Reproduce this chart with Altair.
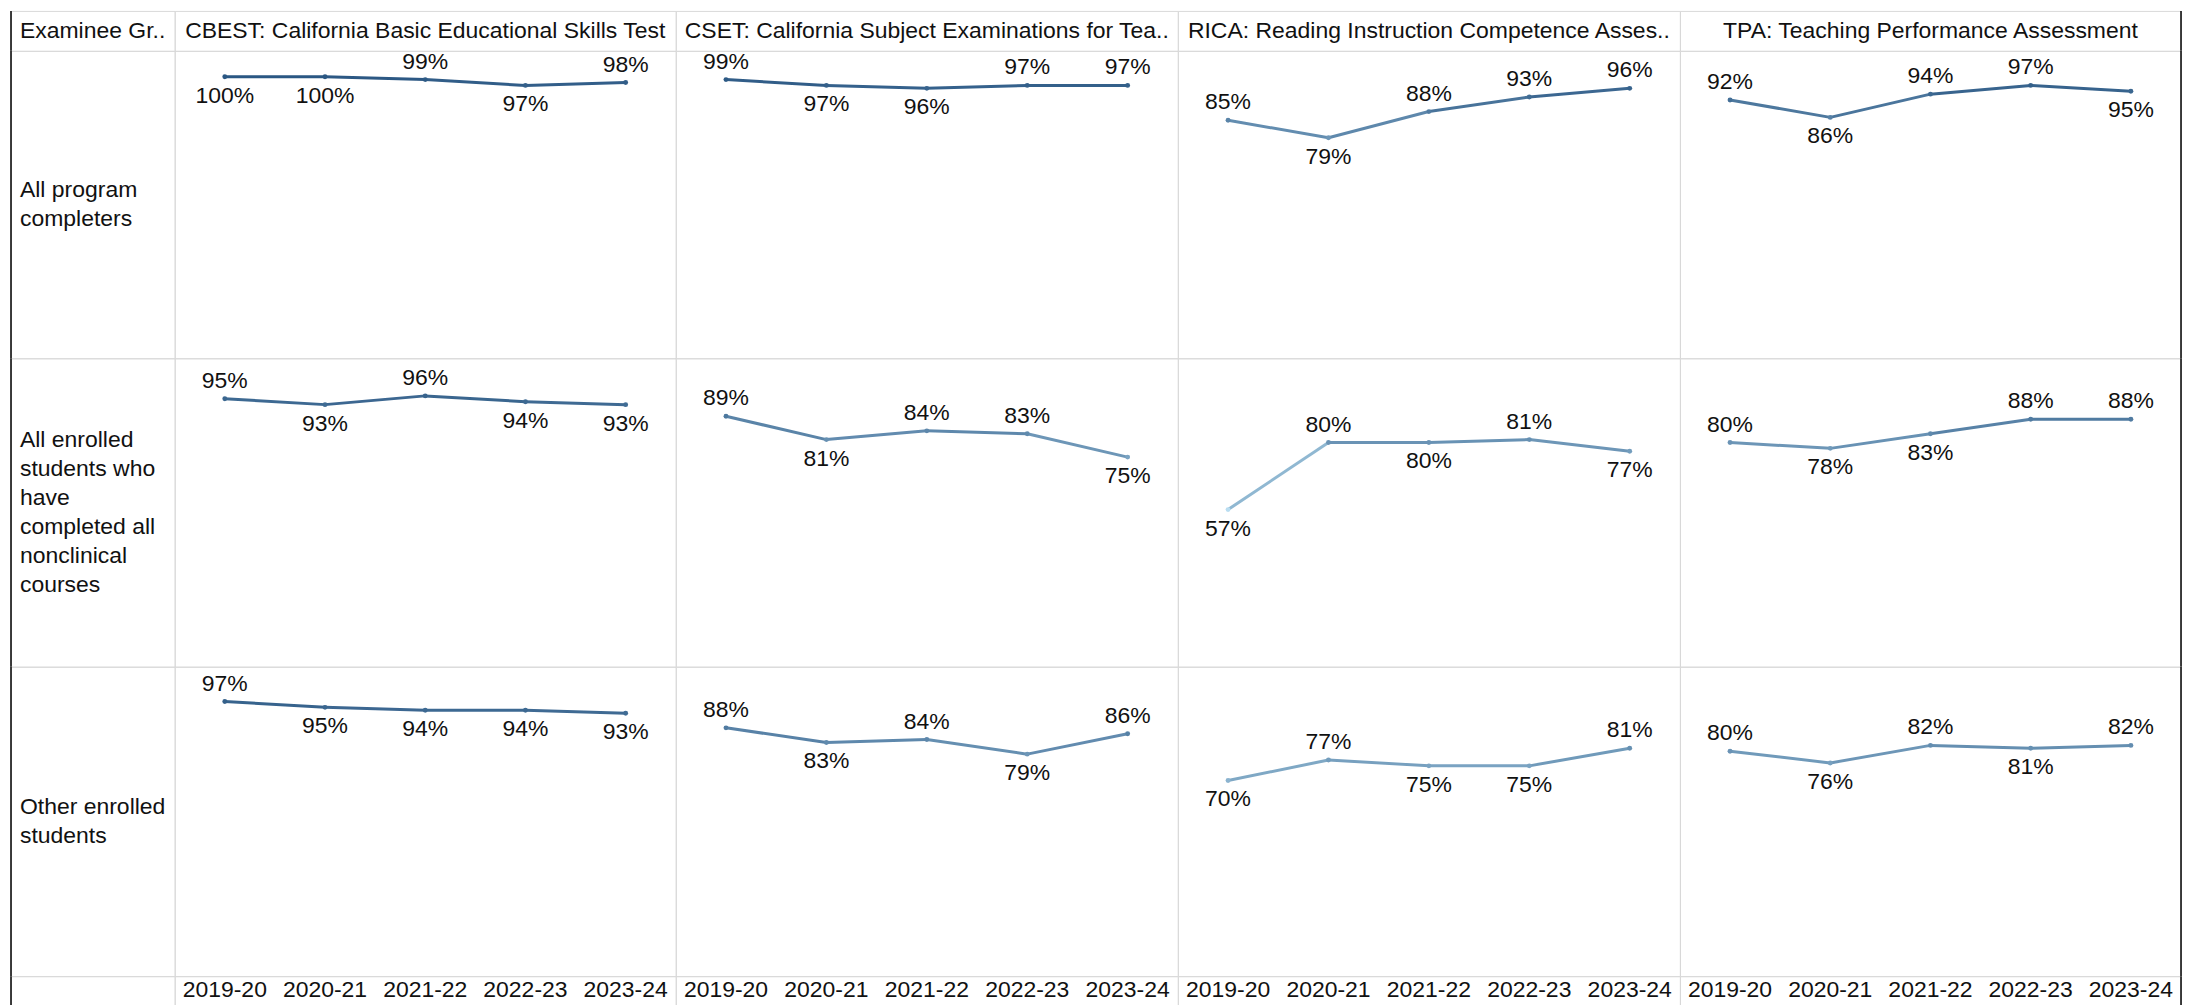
import altair as alt
import pandas as pd

FONT = "Liberation Sans"
TXT = "#111111"
LINE_H = 29

years = ["2019-20", "2020-21", "2021-22", "2022-23", "2023-24"]
exams = ["CBEST", "CSET", "RICA", "TPA"]
exam_headers = [
    "CBEST: California Basic Educational Skills Test",
    "CSET: California Subject Examinations for Tea..",
    "RICA: Reading Instruction Competence Asses..",
    "TPA: Teaching Performance Assessment",
]
corner_label = "Examinee Gr.."
groups = ["completers", "nonclinical", "other"]
group_labels = [
    "All program\ncompleters",
    "All enrolled\nstudents who\nhave\ncompleted all\nnonclinical\ncourses",
    "Other enrolled\nstudents",
]

# pass rates (rows = examinee group, columns = exam)
cbest_completers = [1.00, 1.00, 0.99, 0.97, 0.98]
cset_completers = [0.99, 0.97, 0.96, 0.97, 0.97]
rica_completers = [0.85, 0.79, 0.88, 0.93, 0.96]
tpa_completers = [0.92, 0.86, 0.94, 0.97, 0.95]

cbest_nonclinical = [0.95, 0.93, 0.96, 0.94, 0.93]
cset_nonclinical = [0.89, 0.81, 0.84, 0.83, 0.75]
rica_nonclinical = [0.57, 0.80, 0.80, 0.81, 0.77]
tpa_nonclinical = [0.80, 0.78, 0.83, 0.88, 0.88]

cbest_other = [0.97, 0.95, 0.94, 0.94, 0.93]
cset_other = [0.88, 0.83, 0.84, 0.79, 0.86]
rica_other = [0.70, 0.77, 0.75, 0.75, 0.81]
tpa_other = [0.80, 0.76, 0.82, 0.81, 0.82]

series = [
    [cbest_completers, cset_completers, rica_completers, tpa_completers],
    [cbest_nonclinical, cset_nonclinical, rica_nonclinical, tpa_nonclinical],
    [cbest_other, cset_other, rica_other, tpa_other],
]
# label placement: a = above the point, b = below
label_side = [
    ["bbaba", "abbaa", "abaaa", "abaab"],
    ["ababb", "abaab", "babab", "abbaa"],
    ["abbbb", "ababa", "babba", "ababa"],
]

rows = []
for gi, g in enumerate(groups):
    for ei, e in enumerate(exams):
        vals = series[gi][ei]
        for k, yr in enumerate(years):
            nxt = k + 1 < len(years)
            rows.append({
                "group": g, "exam": e, "year": yr, "value": vals[k],
                "next_year": years[k + 1] if nxt else None,
                "next_value": vals[k + 1] if nxt else None,
                "seg_value": (vals[k] + vals[k + 1]) / 2 if nxt else None,
                "side": label_side[gi][ei][k],
            })
df = pd.DataFrame(rows)

col_w = [502, 503, 503, 502]
head_w = 164
head_h = 40
row_h = [308, 309, 310]
foot_h = 30

X = alt.X("year:O", sort=years,
          scale=alt.Scale(type="point", domain=years, padding=0.5), axis=None)
Y = alt.Y("value:Q", scale=alt.Scale(domain=[0.031, 1.089], zero=False, nice=False), axis=None)
CS = alt.Scale(domain=[0.57, 1.0], range=["#b9ddf1", "#2a5783"])


def border(side, w, h):
    d = pd.DataFrame({"b": [side]})
    return alt.Chart(d).mark_rule(color="#000000", strokeWidth=1.5).encode(
        x=alt.value(0 if side == "left" else w), y=alt.value(0), y2=alt.value(h))


def text_cell(text, w, h, x, align, side=None):
    d = pd.DataFrame({"label": [text]})
    n_lines = text.count("\n") + 1
    t = alt.Chart(d).mark_text(
        align=align, baseline="middle", fontSize=23, font=FONT, color=TXT,
        lineBreak="\n", lineHeight=LINE_H,
    ).encode(text="label:N", x=alt.value(x),
             y=alt.value(h / 2 - (n_lines - 1) * LINE_H / 2))
    layers = [t]
    if side:
        layers.append(border(side, w, h))
    return alt.layer(*layers).properties(width=w, height=h)


def data_cell(g, e, w, h, side=None):
    base = alt.Chart(df).transform_filter(
        (alt.datum.group == g) & (alt.datum.exam == e))
    seg = base.transform_filter("isValid(datum.next_value)").mark_rule(
        strokeWidth=3, strokeCap="round").encode(
        x=X, x2="next_year", y=Y, y2="next_value",
        color=alt.Color("seg_value:Q", scale=CS, legend=None))
    pts = base.mark_circle(size=24, opacity=1).encode(
        x=X, y=Y, color=alt.Color("value:Q", scale=CS, legend=None))
    above = base.transform_filter("datum.side == 'a'").mark_text(
        dy=-18, fontSize=23, font=FONT, color=TXT, baseline="middle").encode(
        x=X, y=Y, text=alt.Text("value:Q", format=".0%"))
    below = base.transform_filter("datum.side == 'b'").mark_text(
        dy=19, fontSize=23, font=FONT, color=TXT, baseline="middle").encode(
        x=X, y=Y, text=alt.Text("value:Q", format=".0%"))
    layers = [seg, pts, above, below]
    if side:
        layers.append(border(side, w, h))
    return alt.layer(*layers).properties(width=w, height=h)


def year_cell(e, w, h, side=None):
    base = alt.Chart(df).transform_filter(
        (alt.datum.group == groups[0]) & (alt.datum.exam == e))
    t = base.mark_text(fontSize=23, font=FONT, color=TXT, baseline="middle").encode(
        x=X, y=alt.value(14), text="year:N")
    layers = [t]
    if side:
        layers.append(border(side, w, h))
    return alt.layer(*layers).properties(width=w, height=h)


def edge(i):
    return "right" if i == len(exams) - 1 else None


cells = [text_cell(corner_label, head_w, head_h, 9, "left", "left")]
for i, h in enumerate(exam_headers):
    cells.append(text_cell(h, col_w[i], head_h, col_w[i] / 2, "center", edge(i)))

for gi, g in enumerate(groups):
    cells.append(text_cell(group_labels[gi], head_w, row_h[gi], 9, "left", "left"))
    for ei, e in enumerate(exams):
        cells.append(data_cell(g, e, col_w[ei], row_h[gi], edge(ei)))

cells.append(text_cell("", head_w, foot_h, 9, "left", "left"))
for ei, e in enumerate(exams):
    cells.append(year_cell(e, col_w[ei], foot_h, edge(ei)))

chart = alt.concat(*cells, columns=5, spacing=0, bounds="flush", align="each").properties(
    padding={"left": 1, "top": 0, "right": 0, "bottom": 0}
).configure_view(stroke="#d9d9d9", strokeWidth=1)

chart.save("out.html", embed_options={"renderer": "svg", "actions": False})
